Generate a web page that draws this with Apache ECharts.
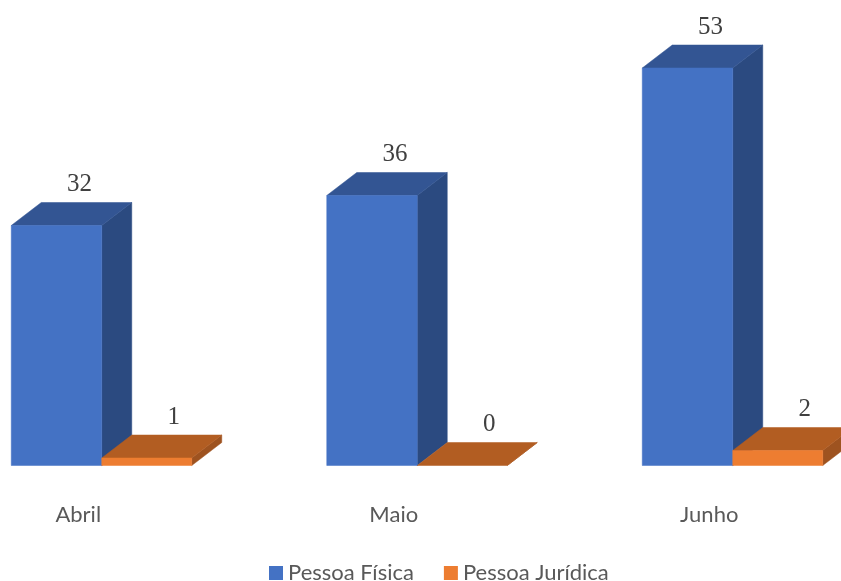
<!DOCTYPE html>
<html><head><meta charset="utf-8">
<style>html,body{margin:0;padding:0;background:#fff}#c{width:841px;height:581px}</style>
<script src="https://cdn.jsdelivr.net/npm/echarts@6/dist/echarts.min.js"></script>
</head><body><div id="c"></div>
<script>
const categories = ['Abril', 'Maio', 'Junho'];
const pessoaFisica = [32, 36, 53];
const pessoaJuridica = [1, 0, 2];

const DX = 30, DY = -23;
function box(offset, width, labelShift, colors) {
  return function (params, api) {
    const idx = api.value(0), val = api.value(1);
    const base = api.coord([idx, 0]);
    const top = api.coord([idx, val]);
    const l = base[0] + offset, r = l + width, b = base[1], t = top[1];
    const poly = (pts, fill) => ({type: 'polygon', shape: {points: pts}, style: {fill: fill, stroke: fill, lineWidth: 0.5}});
    const children = [
      poly([[r, b], [r + DX, b + DY], [r + DX, t + DY], [r, t]], colors.side),
      poly([[l, t], [r, t], [r + DX, t + DY], [l + DX, t + DY]], colors.top)
    ];
    if (val > 0) children.push(poly([[l, b], [r, b], [r, t], [l, t]], colors.front));
    children.push({type: 'text', style: {
      x: (l + r) / 2 + labelShift, y: t - 41, text: String(val),
      fill: '#404040', font: '25px "Liberation Serif"',
      align: 'center', verticalAlign: 'middle'
    }});
    return {type: 'group', children: children};
  };
}
const chart = echarts.init(document.getElementById('c'), null, {renderer: 'canvas'});
chart.setOption({
  animation: false,
  backgroundColor: '#fff',
  grid: {left: -79.5, width: 946.5, top: 15.5, height: 450, outerBoundsMode: 'none', containLabel: false},
  legend: {
    top: 557, left: 264, itemWidth: 14, itemHeight: 14, itemGap: 30,
    icon: 'rect',
    textStyle: {color: '#595959', fontFamily: 'Lato', fontSize: 22},
    data: ['Pessoa Física', 'Pessoa Jurídica']
  },
  xAxis: {
    type: 'category', data: categories,
    axisLine: {show: false}, axisTick: {show: false},
    axisLabel: {color: '#595959', fontFamily: 'Lato', fontSize: 22, margin: 38}
  },
  yAxis: {type: 'value', min: 0, max: 60, show: false, splitLine: {show: false}},
  series: [
    {name: 'Pessoa Física', type: 'custom', itemStyle: {color: '#4472C4'},
     renderItem: box(-67, 90.5, 23, {front: '#4472C4', top: '#335593', side: '#2B4A80'}),
     encode: {x: 0, y: 1},
     data: pessoaFisica.map((v, i) => [i, v])},
    {name: 'Pessoa Jurídica', type: 'custom', itemStyle: {color: '#ED7D31'},
     renderItem: box(23.5, 90, 27, {front: '#ED7D31', top: '#B25D22', side: '#9E5320'}),
     encode: {x: 0, y: 1},
     data: pessoaJuridica.map((v, i) => [i, v])}
  ]
});
</script></body></html>
